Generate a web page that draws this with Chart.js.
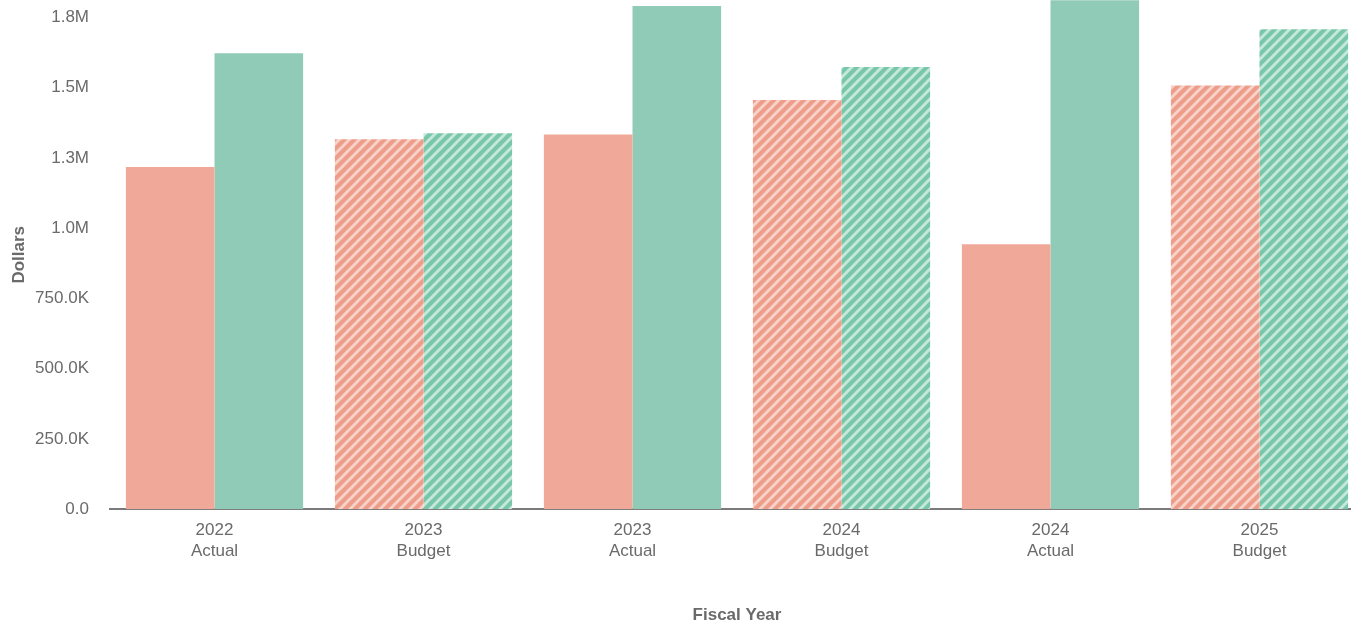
<!DOCTYPE html>
<html>
<head>
<meta charset="utf-8">
<title>Fiscal Year Dollars</title>
<script src="https://cdn.jsdelivr.net/npm/chart.js@4/dist/chart.umd.min.js"></script>
<style>
  html, body { margin: 0; padding: 0; background: #fff; overflow: hidden; }
  #wrap { position: absolute; left: 0; top: -31px; width: 1364px; height: 657px; }
</style>
</head>
<body>
<div id="wrap"><canvas id="chart"></canvas></div>
<script>
// fiscal year columns (year + scenario)
const years = ['2022', '2023', '2023', '2024', '2024', '2025'];
const scenarios = ['Actual', 'Budget', 'Actual', 'Budget', 'Actual', 'Budget'];

// dollar amounts per column
const expenses = [1218000, 1316000, 1333000, 1456000, 943000, 1508000];
const revenue = [1622000, 1338000, 1790000, 1573000, 1900000, 1708000];

// y axis tick values
const yTicks = [0, 250000, 500000, 750000, 1000000, 1250000, 1500000, 1750000];

const TEXT = '#6a6a6a';
const FONT = '"Liberation Sans", Arial, Helvetica, sans-serif';

// diagonal hatch used for budget columns
function hatch(base, stripe) {
    const s = 10;
    const c = document.createElement('canvas');
    c.width = s; c.height = s;
    const g = c.getContext('2d');
    g.fillStyle = base;
    g.fillRect(0, 0, s, s);
    g.strokeStyle = stripe;
    g.lineWidth = 3;
    for (const k of [0, s, 2 * s]) {
        g.beginPath();
        g.moveTo(-1, k + 1);
        g.lineTo(k + 1, -1);
        g.stroke();
    }
    return document.getElementById('chart').getContext('2d').createPattern(c, 'repeat');
}

const redSolid = '#f0a898';
const greenSolid = '#8fcbb6';
const redHatch = hatch('#ee9d8a', '#f6d2c8');
const greenHatch = hatch('#78c7aa', '#c6e8db');

const pick = (solid, pattern) => scenarios.map(s => s === 'Budget' ? pattern : solid);

function money(v) {
    if (v >= 1e6) return (v / 1e6).toFixed(1) + 'M';
    if (v >= 1e3) return (v / 1e3).toFixed(1) + 'K';
    return v.toFixed(1);
}

new Chart(document.getElementById('chart'), {
    type: 'bar',
    data: {
        labels: years.map((y, i) => [y, scenarios[i]]),
        datasets: [
            { label: 'Expenses', data: expenses, backgroundColor: pick(redSolid, redHatch), borderWidth: 0 },
            { label: 'Revenue', data: revenue, backgroundColor: pick(greenSolid, greenHatch), borderWidth: 0 }
        ]
    },
    options: {
        responsive: true,
        maintainAspectRatio: false,
        animation: false,
        layout: { padding: { left: 4, right: 0, top: 0, bottom: 0 } },
        datasets: { bar: { categoryPercentage: 0.848, barPercentage: 1.0 } },
        plugins: { legend: { display: false }, tooltip: { enabled: false } },
        scales: {
            x: {
                grid: { display: false, drawTicks: false },
                border: { display: true, color: '#7a7a7a', width: 2 },
                ticks: { color: TEXT, padding: 11, maxRotation: 0, font: { family: FONT, size: 17, lineHeight: 1.2 } },
                title: {
                    display: true, text: 'Fiscal Year', color: TEXT,
                    font: { family: FONT, size: 17, weight: 'bold', lineHeight: 1.2 },
                    padding: { top: 33.5, bottom: 0 }
                }
            },
            y: {
                min: 0,
                max: 1811000,
                grid: { display: false, drawTicks: false },
                border: { display: false },
                afterBuildTicks: s => { s.ticks = yTicks.map(v => ({ value: v })); },
                afterFit: s => { s.width = 106; },
                ticks: {
                    color: TEXT,
                    padding: 21,
                    font: { family: FONT, size: 17 },
                    callback: v => money(v)
                },
                title: {
                    display: true, text: 'Dollars', color: TEXT,
                    font: { family: FONT, size: 17, weight: 'bold', lineHeight: 1.2 },
                    padding: { top: 5, bottom: 5 }
                }
            }
        }
    }
});
</script>
</body>
</html>
